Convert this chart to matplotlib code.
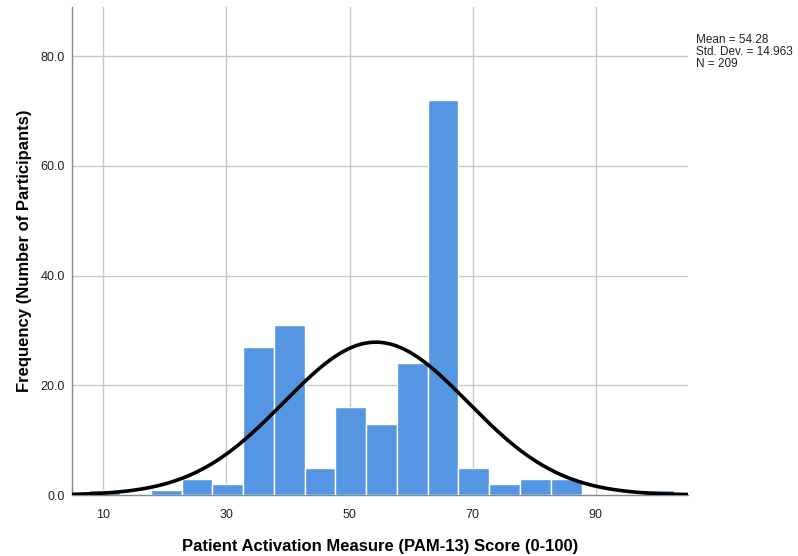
import matplotlib
matplotlib.use("Agg")
import matplotlib.pyplot as plt
import numpy as np

plt.rcParams["font.family"] = ["Liberation Sans", "DejaVu Sans"]

# Histogram data (bin width 5)
bin_left = [7.7 + 5 * i for i in range(19)]
counts = [1, 0, 1, 3, 2, 27, 31, 5, 16, 13, 24, 72, 5, 2, 3, 3, 0, 0, 1]
bin_width = 5.0

mean_val = 54.28
std_val = 14.963
n_total = 209

x_ticks = [10, 30, 50, 70, 90]
y_ticks = [0, 20, 40, 60, 80]

fig = plt.figure(figsize=(7.98, 5.56), dpi=100)
ax = fig.add_axes([0.0902, 0.1097, 0.772, 0.878])

ax.bar(bin_left, counts, width=bin_width, align="edge", color="#5596e3",
       edgecolor="white", linewidth=1.0, zorder=3)

xs = np.linspace(4.9, 105, 400)
pdf = np.exp(-0.5 * ((xs - mean_val) / std_val) ** 2) / (std_val * np.sqrt(2 * np.pi))
ax.plot(xs, pdf * n_total * bin_width, color="black", linewidth=2.6, zorder=4)

ax.set_xlim(4.9, 105)
ax.set_ylim(0, 89)
ax.set_xticks(x_ticks)
ax.set_yticks(y_ticks)
ax.set_yticklabels([f"{v:.1f}" for v in y_ticks])
ax.grid(True, color="#c8c8c8", linewidth=1.0, zorder=0)
ax.tick_params(axis="x", length=0, labelsize=9, colors="#222222", pad=10)
ax.tick_params(axis="y", length=0, labelsize=9, colors="#222222", pad=5)

for side in ["top", "right"]:
    ax.spines[side].set_visible(False)
for side in ["left", "bottom"]:
    ax.spines[side].set_color("#888888")
    ax.spines[side].set_linewidth(1.0)

ax.set_xlabel("Patient Activation Measure (PAM-13) Score (0-100)",
              fontsize=12, fontweight="bold", labelpad=13)
ax.set_ylabel("Frequency (Number of Participants)",
              fontsize=12, fontweight="bold", labelpad=6)

fig.text(0.872, 0.939,
         f"Mean = {mean_val}\nStd. Dev. = {std_val}\nN = {n_total}",
         fontsize=8.5, va="top", ha="left", linespacing=1.0, color="#222222")

fig.savefig("out.png", dpi=100)
